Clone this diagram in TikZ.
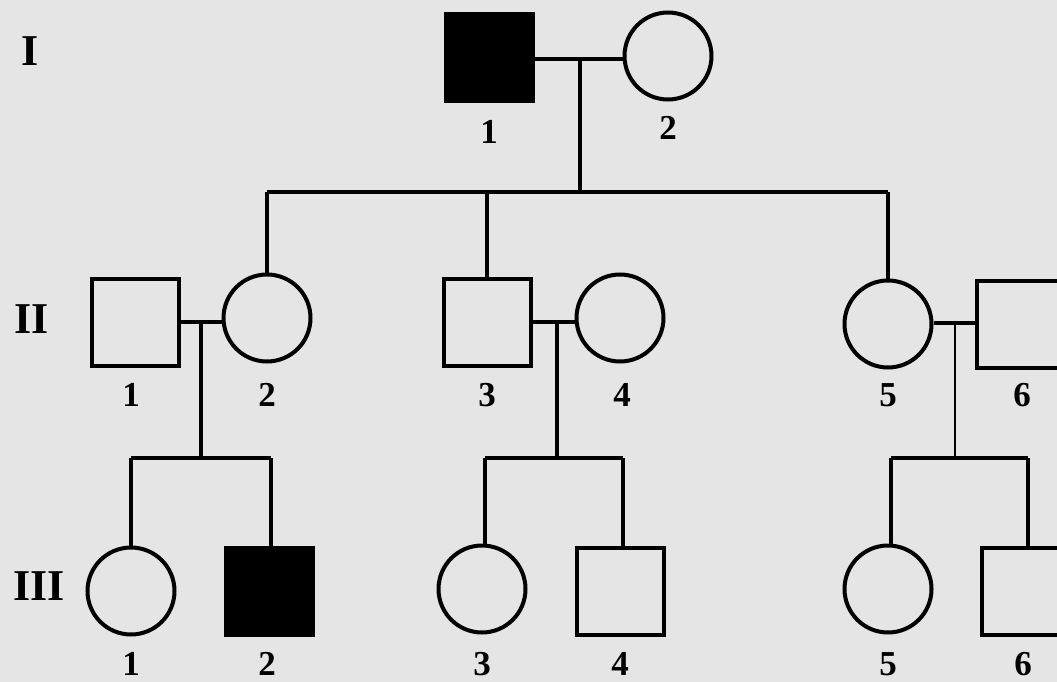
\documentclass[tikz,border=0pt]{standalone}
\usepackage{fontspec}
\setmainfont{Liberation Serif}
\definecolor{bgc}{RGB}{229,229,229}
\begin{document}
\begin{tikzpicture}[x=1pt,y=-1pt,
  male/.style={rectangle,draw,line width=4pt,minimum size=87pt,inner sep=0pt},
  female/.style={circle,draw,line width=4pt,minimum size=87pt,inner sep=0pt},
  affected/.style={fill=black},
  lbl/.style={inner sep=0pt,font=\fontsize{35}{35}\selectfont\bfseries},
  gen/.style={inner sep=0pt,font=\fontsize{44}{44}\selectfont\bfseries},
  link/.style={line width=4pt},
  thinlink/.style={line width=1.6pt}]
\useasboundingbox (0,0) rectangle (1057,682);
\fill[bgc] (0,0) rectangle (1057,682);
\clip (0,0) rectangle (1057,682);

% generation labels
\node[gen] (gI) at (30,51) {I};
\node[gen] (gII) at (32,319) {II};
\node[gen] (gIII) at (39,586) {III};

% generation I
\node[male,affected] (I1) at (489,58) {};
\node[female] (I2) at (668,56) {};
\node[lbl] (lI1) at (489,132) {1};
\node[lbl] (lI2) at (668,128) {2};

% generation II
\node[male] (II1) at (135,322) {};
\node[female] (II2) at (267,318) {};
\node[male] (II3) at (487,322) {};
\node[female] (II4) at (620,318) {};
\node[female] (II5) at (888,324) {};
\node[male] (II6) at (1020,324) {};
\node[lbl] (lII1) at (131,395) {1};
\node[lbl] (lII2) at (267,395) {2};
\node[lbl] (lII3) at (487,395) {3};
\node[lbl] (lII4) at (622,395) {4};
\node[lbl] (lII5) at (888,395) {5};
\node[lbl] (lII6) at (1022,395) {6};

% generation III
\node[female] (III1) at (131,591) {};
\node[male,affected] (III2) at (269,591) {};
\node[female] (III3) at (482,589) {};
\node[male] (III4) at (620,591) {};
\node[female] (III5) at (888,589) {};
\node[male] (III6) at (1025,591) {};
\node[lbl] (lIII1) at (131,664) {1};
\node[lbl] (lIII2) at (267,664) {2};
\node[lbl] (lIII3) at (482,664) {3};
\node[lbl] (lIII4) at (620,664) {4};
\node[lbl] (lIII5) at (888,664) {5};
\node[lbl] (lIII6) at (1023,664) {6};

% junction coordinates
\coordinate (mI) at (580,59);
\coordinate (sI) at (580,192);
\coordinate (mA) at (201,322);
\coordinate (sA) at (201,458);
\coordinate (mB) at (557,322);
\coordinate (sB) at (557,458);
\coordinate (mC) at (955,323);
\coordinate (sC) at (955,458);

% generation I marriage and descent
\draw[link] (I1.east |- mI) -- (I2.west |- mI);
\draw[link] (mI) -- (sI);
\draw[link] (II2.north |- sI) -- (II5.north |- sI);
\draw[link] (II2.north |- sI) -- (II2.north);
\draw[link] (II3.north |- sI) -- (II3.north);
\draw[link] (II5.north |- sI) -- (II5.north);

% II-1 x II-2
\draw[link] (II1.east |- mA) -- (II2.west |- mA);
\draw[link] (mA) -- (sA);
\draw[link] (III1.north |- sA) -- ([xshift=2pt]III2.north |- sA);
\draw[link] (III1.north |- sA) -- (III1.north);
\draw[link] ([xshift=2pt]III2.north |- sA) -- ([xshift=2pt]III2.north);

% II-3 x II-4
\draw[link] (II3.east |- mB) -- (II4.west |- mB);
\draw[link] (mB) -- (sB);
\draw[link] ([xshift=3pt]III3.north |- sB) -- ([xshift=3pt]III4.north |- sB);
\draw[link] ([xshift=3pt]III3.north |- sB) -- ([xshift=3pt]III3.north);
\draw[link] ([xshift=3pt]III4.north |- sB) -- ([xshift=3pt]III4.north);

% II-5 x II-6
\draw[link] (II5.east |- mC) -- (II6.west |- mC);
\draw[thinlink] (mC) -- (sC);
\draw[link] ([xshift=3pt]III5.north |- sC) -- ([xshift=3pt]III6.north |- sC);
\draw[link] ([xshift=3pt]III5.north |- sC) -- ([xshift=3pt]III5.north);
\draw[link] ([xshift=3pt]III6.north |- sC) -- ([xshift=3pt]III6.north);
\end{tikzpicture}
\end{document}
